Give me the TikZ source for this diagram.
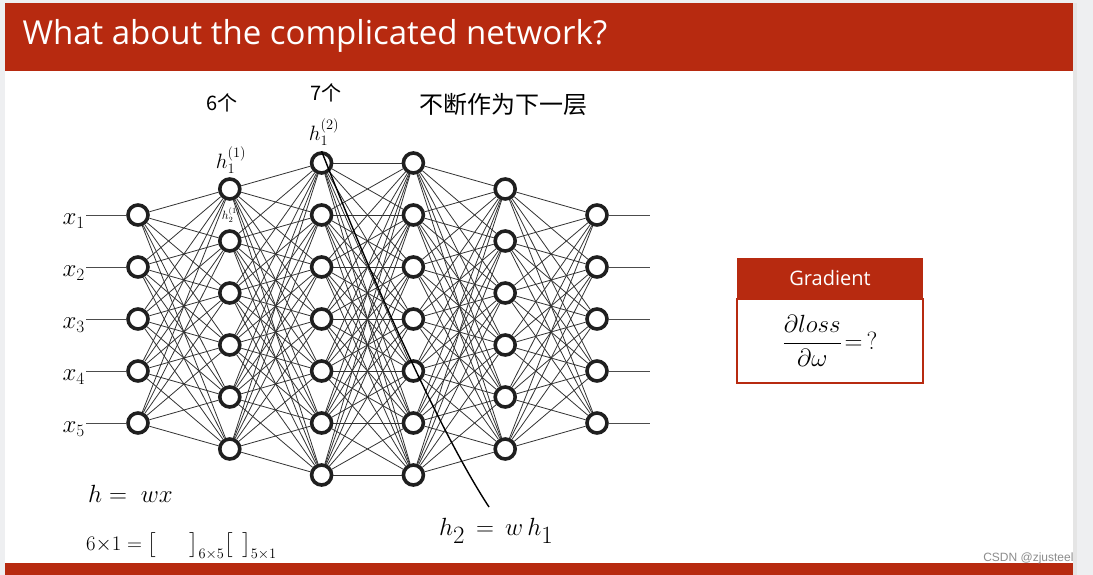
\documentclass[tikz,border=0pt]{standalone}
\usepackage{fontspec}
\usepackage{amsmath}
\setmainfont{Open Sans}
\newfontfamily\cjk{Noto Sans CJK SC}
\newfontfamily\markfont{Liberation Sans}
\usetikzlibrary{positioning}
\definecolor{slidered}{HTML}{B72A10}
\definecolor{pagegray}{HTML}{EEEFF1}
\tikzset{%
    neuron/.style={circle,draw=black!88,line width=3.6pt,fill=white,minimum size=20pt,inner sep=0pt},
    wire/.style={line width=0.8pt,black!80},
    ioline/.style={line width=1pt,black!70},
    hand/.style={font=\fontsize{20}{20}\selectfont,inner sep=1pt},
    handsmall/.style={font=\fontsize{12}{12}\selectfont,inner sep=0pt},
    inkline/.style={line width=1.4pt,black},
    gradhead/.style={fill=slidered,text=white,minimum width=186pt,minimum height=40pt,inner sep=0pt,
        font=\fontsize{20}{20}\selectfont},
    gradbody/.style={draw=slidered,line width=1.6pt,minimum width=186pt,minimum height=84pt,inner sep=0pt,
        font=\fontsize{29}{34}\selectfont}
}

\begin{document}
\begin{tikzpicture}[x=1pt,y=-1pt]
    % slide background
    \fill[pagegray] (0,0) rectangle (1093,575);
    \fill[white] (5,3) rectangle (1073,575);
    \fill[black!10] (1073,3) rectangle (1077,575);
    \fill[slidered] (5,3) rectangle (1073,71);
    \fill[slidered] (5,563) rectangle (1073,575);
    \node[anchor=west,text=white,font=\fontsize{33}{33}\selectfont] (title) at (19,36) {What about the complicated network?};
    %%%%% layers
    \foreach \l/\n in {1/5,2/6,3/7,4/7,5/6,6/5}{
        \foreach \i in {1,...,\n}{
            \node[neuron] (l\l-\i) at ({138+(\l-1)*91.8},{319+(\i-(\n+1)/2)*52}) {};
        }
    }
    \foreach \a/\na/\b/\nb in {1/5/2/6,2/6/3/7,3/7/4/7,4/7/5/6,5/6/6/5}{
        \foreach \i in {1,...,\na}{
            \foreach \j in {1,...,\nb}{
                \draw[wire] (l\a-\i) -- (l\b-\j);
            }
        }
    }
    %%%%% inputs and outputs
    \foreach \i in {1,...,5}{
        \coordinate (in-\i) at (86,{215+(\i-1)*52});
        \coordinate (out-\i) at (650,{215+(\i-1)*52});
        \draw[ioline] (in-\i) -- (l1-\i);
        \draw[ioline] (l6-\i) -- (out-\i);
        \node[hand,left=0pt of in-\i,yshift=-6pt,font=\fontsize{25}{25}\selectfont] (x-\i) {$x_{\i}$};
    }
    %%%%% notes
    \node[hand] (n6) at (222,103) {\cjk 6个};
    \node[hand] (n7) at (326,93) {\cjk 7个};
    \node[hand] (h11) at (231,160) {$h^{(1)}_1$};
    \node[handsmall] (h12) at (231,215) {$h^{(1)}_2$};
    \node[hand] (h21) at (324,132) {$h^{(2)}_1$};
    \node[hand,anchor=west,font=\fontsize{24}{24}\selectfont\cjk] (note) at (418,104) {不断作为下一层};
    \node[hand,anchor=west,inner sep=0pt,font=\fontsize{26}{26}\selectfont] (hwx) at (88,494) {$h=\;wx$};
    \node[hand,anchor=west,inner sep=0pt,font=\fontsize{22}{22}\selectfont] (dims) at (86,546)
        {$6{\times}1=\big[\quad\;\;\big]_{6\times5}\big[\;\,\big]_{5\times1}$};
    \node[hand,anchor=west,font=\fontsize{38}{38}\selectfont] (h2) at (438,531) {$h_2\,=\,w\,h_1$};
    \coordinate (inkend) at (489,507);
    \draw[inkline] (l3-1.north) .. controls (380,300) and (445,440) .. (inkend);
    %%%%% gradient box
    \node[gradhead] (grad) at (830,278) {Gradient};
    \node[gradbody,below=0pt of grad] (gradeq) {$\dfrac{\partial loss}{\partial\omega}\!=\,?$};
    \node[anchor=base east,text=black!45,font=\markfont\fontsize{12}{12}\selectfont] (mark) at (1077,561) {CSDN @zjusteel};
\end{tikzpicture}
\end{document}
